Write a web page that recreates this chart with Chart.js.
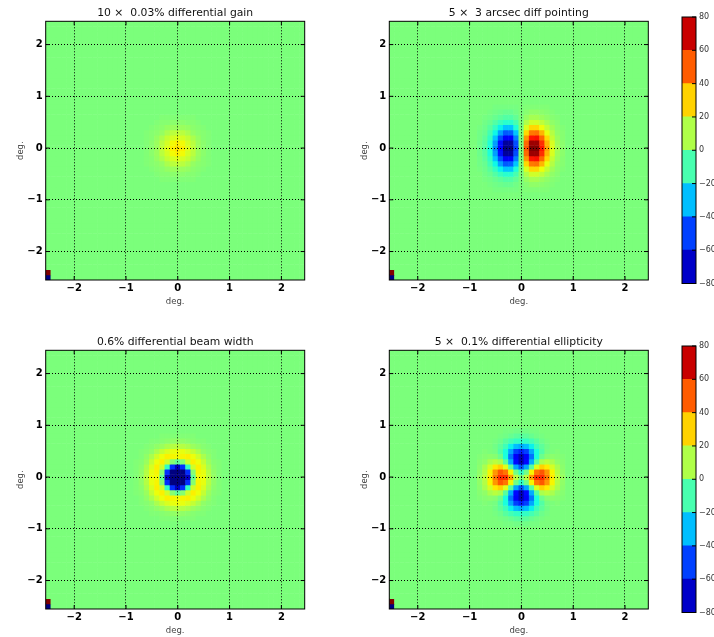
<!DOCTYPE html>
<html>
<head>
<meta charset="utf-8">
<script src="https://cdn.jsdelivr.net/npm/chart.js@4.4.1/dist/chart.umd.min.js"></script>
<style>
  html, body { margin: 0; padding: 0; background: #fff; overflow: hidden; }
  #fig { position: relative; width: 714px; height: 637px; overflow: hidden; background: #fff; }
  #fig canvas { position: absolute; }
</style>
</head>
<body>
<div id="fig">
  <canvas id="mapGain" width="320" height="312" style="left:0px;top:0px"></canvas>
  <canvas id="mapPointing" width="320" height="312" style="left:343px;top:0px"></canvas>
  <canvas id="barTop" width="70" height="300" style="left:680px;top:0px"></canvas>
  <canvas id="mapBeam" width="320" height="312" style="left:0px;top:329px"></canvas>
  <canvas id="mapEllip" width="320" height="312" style="left:343px;top:329px"></canvas>
  <canvas id="barBottom" width="70" height="300" style="left:680px;top:329px"></canvas>
</div>
<script>
// ---- data -------------------------------------------------------------
// Each map is a 50 x 50 grid of 0.1 deg cells, cell centres -2.5 ... 2.4 deg.
// Only the central window of each map differs from 0; rows run from the
// highest y down, columns from the lowest x up, both centred on (0, 0).
const panelTitles = [
  '10 \u00d7  0.03% differential gain',
  '5 \u00d7  3 arcsec diff pointing',
  '0.6% differential beam width',
  '5 \u00d7  0.1% differential ellipticity'
];
const axisTicks = [-2, -1, 0, 1, 2];
const colorbarTicks = [-80, -60, -40, -20, 0, 20, 40, 60, 80];
const cellStep = 0.1;
const cellIndexRange = [-25, 24];
// range-setting cells in the lower-left corner
const cornerCells = [
  { x: -2.5, y: -2.5, v: -80 },
  { x: -2.5, y: -2.4, v: 80 }
];

const gainRows = [
  [0, 0, 0, 1, 1, 1, 1, 1, 1, 1, 0, 0, 0],
  [0, 0, 1, 2, 2, 3, 3, 3, 2, 2, 1, 0, 0],
  [0, 1, 2, 3, 5, 6, 6, 6, 5, 3, 2, 1, 0],
  [1, 2, 3, 5, 9, 12, 13, 12, 9, 5, 3, 2, 1],
  [1, 2, 5, 9, 14, 17, 19, 17, 14, 9, 5, 2, 1],
  [1, 3, 6, 12, 17, 23, 25, 23, 17, 12, 6, 3, 1],
  [1, 3, 6, 13, 19, 25, 27, 25, 19, 13, 6, 3, 1],
  [1, 3, 6, 12, 17, 23, 25, 23, 17, 12, 6, 3, 1],
  [1, 2, 5, 9, 14, 17, 19, 17, 14, 9, 5, 2, 1],
  [1, 2, 3, 5, 9, 12, 13, 12, 9, 5, 3, 2, 1],
  [0, 1, 2, 3, 5, 6, 6, 6, 5, 3, 2, 1, 0],
  [0, 0, 1, 2, 2, 3, 3, 3, 2, 2, 1, 0, 0],
  [0, 0, 0, 1, 1, 1, 1, 1, 1, 1, 0, 0, 0]
];

const pointingRows = [
  [0, 0, 0, -1, -1, -1, -1, -1, 0, 1, 1, 1, 1, 1, 0, 0, 0],
  [0, 0, -1, -2, -3, -4, -4, -2, 0, 2, 4, 4, 3, 2, 1, 0, 0],
  [0, -1, -2, -4, -6, -8, -8, -5, 0, 5, 8, 8, 6, 4, 2, 1, 0],
  [0, -2, -4, -8, -13, -16, -16, -10, 0, 10, 16, 16, 13, 8, 4, 2, 0],
  [-1, -3, -7, -14, -22, -29, -29, -18, 0, 18, 29, 29, 22, 14, 7, 3, 1],
  [-2, -4, -11, -21, -35, -46, -45, -29, 0, 29, 45, 46, 35, 21, 11, 4, 2],
  [-2, -6, -14, -29, -48, -63, -62, -40, 0, 40, 62, 63, 48, 29, 14, 6, 2],
  [-3, -7, -18, -35, -58, -76, -76, -48, 0, 48, 76, 76, 58, 35, 18, 7, 3],
  [-3, -8, -19, -38, -62, -81, -81, -51, 0, 51, 81, 81, 62, 38, 19, 8, 3],
  [-3, -7, -18, -35, -58, -76, -76, -48, 0, 48, 76, 76, 58, 35, 18, 7, 3],
  [-2, -6, -14, -29, -48, -63, -62, -40, 0, 40, 62, 63, 48, 29, 14, 6, 2],
  [-2, -4, -11, -21, -35, -46, -45, -29, 0, 29, 45, 46, 35, 21, 11, 4, 2],
  [-1, -3, -7, -14, -22, -29, -29, -18, 0, 18, 29, 29, 22, 14, 7, 3, 1],
  [0, -2, -4, -8, -13, -16, -16, -10, 0, 10, 16, 16, 13, 8, 4, 2, 0],
  [0, -1, -2, -4, -6, -8, -8, -5, 0, 5, 8, 8, 6, 4, 2, 1, 0],
  [0, 0, -1, -2, -3, -4, -4, -2, 0, 2, 4, 4, 3, 2, 1, 0, 0],
  [0, 0, 0, -1, -1, -1, -1, -1, 0, 1, 1, 1, 1, 1, 0, 0, 0]
];

const beamRows = [
  [0, 0, 0, 0, 0, 1, 1, 1, 1, 1, 1, 1, 0, 0, 0, 0, 0],
  [0, 0, 0, 1, 1, 2, 3, 4, 5, 4, 3, 2, 1, 1, 0, 0, 0],
  [0, 0, 1, 2, 4, 6, 9, 11, 12, 11, 9, 6, 4, 2, 1, 0, 0],
  [0, 1, 2, 4, 9, 14, 18, 21, 22, 21, 18, 14, 9, 4, 2, 1, 0],
  [0, 1, 4, 9, 16, 22, 25, 24, 23, 24, 25, 22, 16, 9, 4, 1, 0],
  [1, 2, 6, 14, 22, 25, 16, 2, -5, 2, 16, 25, 22, 14, 6, 2, 1],
  [1, 3, 9, 18, 25, 16, -14, -53, -71, -53, -14, 16, 25, 18, 9, 3, 1],
  [1, 4, 11, 21, 24, 2, -53, -119, -149, -119, -53, 2, 24, 21, 11, 4, 1],
  [1, 5, 12, 22, 23, -5, -71, -149, -184, -149, -71, -5, 23, 22, 12, 5, 1],
  [1, 4, 11, 21, 24, 2, -53, -119, -149, -119, -53, 2, 24, 21, 11, 4, 1],
  [1, 3, 9, 18, 25, 16, -14, -53, -71, -53, -14, 16, 25, 18, 9, 3, 1],
  [1, 2, 6, 14, 22, 25, 16, 2, -5, 2, 16, 25, 22, 14, 6, 2, 1],
  [0, 1, 4, 9, 16, 22, 25, 24, 23, 24, 25, 22, 16, 9, 4, 1, 0],
  [0, 1, 2, 4, 9, 14, 18, 21, 22, 21, 18, 14, 9, 4, 2, 1, 0],
  [0, 0, 1, 2, 4, 6, 9, 11, 12, 11, 9, 6, 4, 2, 1, 0, 0],
  [0, 0, 0, 1, 1, 2, 3, 4, 5, 4, 3, 2, 1, 1, 0, 0, 0],
  [0, 0, 0, 0, 0, 1, 1, 1, 1, 1, 1, 1, 0, 0, 0, 0, 0]
];

const ellipRows = [
  [0, 0, 0, 0, 0, -1, -1, -2, -2, -2, -1, -1, 0, 0, 0, 0, 0],
  [0, 0, 0, 0, -1, -2, -4, -6, -7, -6, -4, -2, -1, 0, 0, 0, 0],
  [0, 0, 0, -1, -3, -7, -11, -14, -15, -14, -11, -7, -3, -1, 0, 0, 0],
  [0, 0, 0, -2, -6, -12, -22, -30, -33, -30, -22, -12, -6, -2, 0, 0, 0],
  [0, 1, 0, -1, -8, -19, -34, -50, -55, -50, -34, -19, -8, -1, 0, 1, 0],
  [1, 2, 3, 2, -3, -19, -42, -63, -72, -63, -42, -19, -3, 2, 3, 2, 1],
  [2, 4, 9, 12, 9, -7, -33, -59, -72, -59, -33, -7, 9, 12, 9, 4, 2],
  [3, 9, 17, 26, 30, 19, -7, -34, -47, -34, -7, 19, 30, 26, 17, 9, 3],
  [4, 11, 24, 40, 51, 46, 24, -2, -15, -2, 24, 46, 51, 40, 24, 11, 4],
  [6, 13, 26, 45, 58, 58, 39, 12, 0, 12, 39, 58, 58, 45, 26, 13, 6],
  [4, 11, 24, 40, 51, 46, 24, -2, -15, -2, 24, 46, 51, 40, 24, 11, 4],
  [3, 9, 17, 26, 30, 19, -7, -34, -47, -34, -7, 19, 30, 26, 17, 9, 3],
  [2, 4, 9, 12, 9, -7, -33, -59, -72, -59, -33, -7, 9, 12, 9, 4, 2],
  [1, 2, 3, 2, -3, -19, -42, -63, -72, -63, -42, -19, -3, 2, 3, 2, 1],
  [0, 1, 0, -1, -8, -19, -34, -50, -55, -50, -34, -19, -8, -1, 0, 1, 0],
  [0, 0, 0, -2, -6, -12, -22, -30, -33, -30, -22, -12, -6, -2, 0, 0, 0],
  [0, 0, 0, -1, -3, -7, -11, -14, -15, -14, -11, -7, -3, -1, 0, 0, 0],
  [0, 0, 0, 0, -1, -2, -4, -6, -7, -6, -4, -2, -1, 0, 0, 0, 0],
  [0, 0, 0, 0, 0, -1, -1, -2, -2, -2, -1, -1, 0, 0, 0, 0, 0]
];

// ---- colour map (jet, -80 .. 80) ---------------------------------------
const jetSegments = {
  r: [[0, 0], [0.35, 0], [0.66, 1], [0.89, 1], [1, 0.5]],
  g: [[0, 0], [0.125, 0], [0.375, 1], [0.64, 1], [0.91, 0], [1, 0]],
  b: [[0, 0.5], [0.11, 1], [0.34, 1], [0.65, 0], [1, 0]]
};
function channel(seg, t) {
  for (let k = 1; k < seg.length; k++) {
    if (t <= seg[k][0]) {
      const [t0, v0] = seg[k - 1], [t1, v1] = seg[k];
      return v0 + (v1 - v0) * (t - t0) / (t1 - t0);
    }
  }
  return seg[seg.length - 1][1];
}
const vMin = colorbarTicks[0], vMax = colorbarTicks[colorbarTicks.length - 1];
function jetColor(v) {
  const t = Math.min(1, Math.max(0, (v - vMin) / (vMax - vMin)));
  const c = k => Math.round(255 * channel(jetSegments[k], t));
  return `rgb(${c('r')},${c('g')},${c('b')})`;
}

// ---- cell list for one map -------------------------------------------
function cellsFor(rows) {
  const r0 = (rows.length - 1) / 2, c0 = (rows[0].length - 1) / 2;
  const pts = [];
  for (let iy = cellIndexRange[0]; iy <= cellIndexRange[1]; iy++) {
    for (let ix = cellIndexRange[0]; ix <= cellIndexRange[1]; ix++) {
      const row = rows[r0 - iy];
      const v = row && row[ix + c0] !== undefined ? row[ix + c0] : 0;
      pts.push({ x: +(ix * cellStep).toFixed(2), y: +(iy * cellStep).toFixed(2), v });
    }
  }
  for (const cc of cornerCells) {
    const p = pts.find(q => Math.abs(q.x - cc.x) < 1e-6 && Math.abs(q.y - cc.y) < 1e-6);
    if (p) p.v = cc.v;
  }
  return pts;
}

// ---- shared drawing helpers --------------------------------------------
Chart.defaults.font.family = '"DejaVu Sans", "Liberation Sans", sans-serif';
Chart.defaults.color = '#000';

// black frame round the plot area, with short inward tick marks
const framePlugin = {
  id: 'frame',
  afterDraw(chart, args, opts) {
    const { ctx, chartArea: a } = chart;
    const L = 4;
    ctx.save();
    ctx.strokeStyle = '#000';
    ctx.lineWidth = 1;
    ctx.setLineDash([]);
    ctx.beginPath();
    if (opts.ticks) {
      const sx = chart.scales.x, sy = chart.scales.y;
      for (const t of opts.ticks) {
        const px = sx.getPixelForValue(t), py = sy.getPixelForValue(t);
        ctx.moveTo(px, a.bottom); ctx.lineTo(px, a.bottom - L);
        ctx.moveTo(px, a.top); ctx.lineTo(px, a.top + L);
        ctx.moveTo(a.left, py); ctx.lineTo(a.left + L, py);
        ctx.moveTo(a.right, py); ctx.lineTo(a.right - L, py);
      }
    }
    if (opts.rightTicks) {
      const sy = chart.scales.y;
      for (const t of opts.rightTicks) {
        const py = sy.getPixelForValue(t);
        ctx.moveTo(a.right, py); ctx.lineTo(a.right - L, py);
      }
    }
    ctx.stroke();
    ctx.strokeRect(a.left, a.top, a.right - a.left, a.bottom - a.top);
    ctx.restore();
  }
};

const minus = v => (v < 0 ? '\u2212' + Math.abs(v) : String(v));

function mapAxis(horizontal) {
  return {
    type: 'linear',
    min: cellIndexRange[0] * cellStep - cellStep / 2,
    max: cellIndexRange[1] * cellStep + cellStep / 2,
    afterBuildTicks: s => { s.ticks = axisTicks.map(v => ({ value: v })); },
    afterFit: s => { if (horizontal) s.height = 32; else s.width = 45.7; },
    grid: { color: '#000', lineWidth: 1, drawTicks: false, z: 1 },
    border: { display: false, dash: [1, 2] },
    ticks: {
      padding: horizontal ? 2 : 3,
      font: { size: 10, weight: 'bold' },
      color: '#000',
      callback: v => minus(v)
    },
    title: {
      display: true,
      text: 'deg.',
      color: '#444',
      font: { size: 8.5 },
      padding: horizontal ? { top: 0, bottom: 5.2 } : { top: 15.6, bottom: 0 }
    }
  };
}

function drawMap(id, title, rows, padLeft) {
  return new Chart(document.getElementById(id), {
    type: 'scatter',
    data: {
      datasets: [{
        data: cellsFor(rows),
        pointStyle: 'rect',
        pointBorderWidth: 0,
        pointBackgroundColor: c => jetColor(c.raw.v),
        pointRadius: c => {
          const s = c.chart.scales.x;
          const side = Math.abs(s.getPixelForValue(cellStep) - s.getPixelForValue(0)) + 0.6;
          return side / Math.SQRT2;
        },
        clip: 0
      }]
    },
    options: {
      responsive: false,
      animation: false,
      events: [],
      layout: { padding: { left: padLeft, right: 320 - padLeft - 45.7 - 259, top: 0, bottom: 0 } },
      scales: { x: mapAxis(true), y: mapAxis(false) },
      plugins: {
        legend: { display: false },
        tooltip: { enabled: false },
        title: {
          display: true,
          text: title,
          fullSize: false,
          color: '#111',
          font: { size: 10.8, weight: 'normal' },
          padding: { top: 6.5, bottom: 1.84 }
        },
        frame: { ticks: axisTicks }
      }
    },
    plugins: [framePlugin]
  });
}

function drawColorbar(id, padTop, padBottom) {
  const datasets = [];
  for (let k = 0; k < colorbarTicks.length - 1; k++) {
    const lo = colorbarTicks[k], hi = colorbarTicks[k + 1];
    datasets.push({
      data: [[lo, hi]],
      backgroundColor: jetColor((lo + hi) / 2),
      borderWidth: 0,
      grouped: false,
      barPercentage: 1,
      categoryPercentage: 1
    });
  }
  return new Chart(document.getElementById(id), {
    type: 'bar',
    data: { labels: [''], datasets },
    options: {
      responsive: false,
      animation: false,
      events: [],
      layout: { padding: { left: 2, right: 0, top: padTop, bottom: padBottom } },
      scales: {
        x: { display: false },
        y: {
          position: 'right',
          min: vMin,
          max: vMax,
          afterBuildTicks: s => { s.ticks = colorbarTicks.map(v => ({ value: v })); },
          afterFit: s => { s.width = 54; },
          grid: { display: false, drawTicks: false },
          border: { display: false },
          ticks: { padding: 3, font: { size: 8 }, color: '#333', callback: v => minus(v) }
        }
      },
      plugins: {
        legend: { display: false },
        tooltip: { enabled: false },
        frame: { rightTicks: colorbarTicks }
      }
    },
    plugins: [framePlugin]
  });
}

drawMap('mapGain', panelTitles[0], gainRows, 0);
drawMap('mapPointing', panelTitles[1], pointingRows, 0.6);
drawMap('mapBeam', panelTitles[2], beamRows, 0);
drawMap('mapEllip', panelTitles[3], ellipRows, 0.6);
drawColorbar('barTop', 17, 16.5);
drawColorbar('barBottom', 17, 16.5);
</script>
</body>
</html>
